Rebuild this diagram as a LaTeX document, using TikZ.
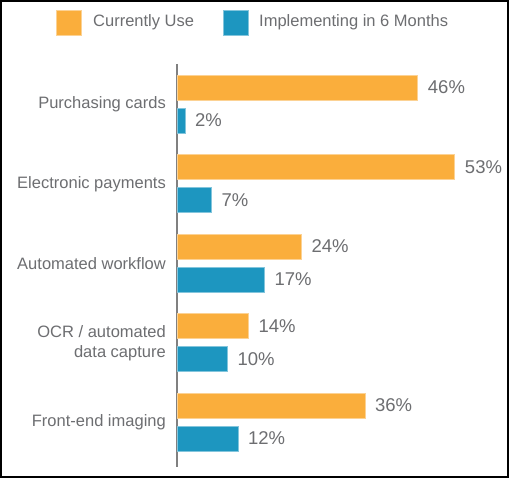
\documentclass[tikz,border=0pt]{standalone}
\usepackage{fontspec}
\setmainfont{Liberation Sans}
\usetikzlibrary{positioning}
\definecolor{curorange}{HTML}{FAAE3C}
\definecolor{impblue}{HTML}{1D96C0}
\definecolor{labelgray}{HTML}{6D6E71}
\begin{document}
\begin{tikzpicture}[x=1pt, y=-1pt, font=\fontsize{16.5}{20}\selectfont, text=labelgray,
	bar/.style={draw=#1!55!white, line width=.6pt, fill=#1},
	pct/.style={anchor=west, inner sep=0pt, font=\fontsize{18.5}{20}\selectfont},
	cat/.style={anchor=east, inner sep=0pt, align=right}]
	%frame
	\draw[line width=2pt, fill=white] (1,1) rectangle (508,477);
	\useasboundingbox (0,0) rectangle (509,478);
	%legend
	\draw[bar=curorange] (56,10) rectangle (81,35);
	\node[anchor=west, inner sep=0pt] (legend cur) at (93,22.5) {Currently Use};
	\draw[bar=impblue] (223,10) rectangle (248,35);
	\node[anchor=west, inner sep=0pt] (legend imp) at (259,22.5) {Implementing in 6 Months};
	%axis
	\draw[gray, line width=1.5pt] (177,64) -- coordinate (y axis mid) (177,467);
	%bars
	\foreach \i/\cat/\cur/\imp in {
		0/Purchasing cards/46/2,
		1/Electronic payments/53/7,
		2/Automated workflow/24/17,
		3/{OCR / automated\\data capture}/14/10,
		4/Front-end imaging/36/12%
	}
	{
		\pgfmathsetmacro\top{75+79.5*\i}
		\draw[bar=curorange] (177,\top) rectangle (174.4+5.29*\cur,\top+25);
		\draw[bar=impblue] (177,\top+33) rectangle (174.4+5.29*\imp,\top+58);
		\node[pct] (cur\i) at (184.4+5.29*\cur,\top+12.5) {\cur\%};
		\node[pct] (imp\i) at (184.4+5.29*\imp,\top+45.5) {\imp\%};
		\node[cat] (cat\i) at (166,\top+29.5) {\cat};
	}
\end{tikzpicture}
\end{document}
